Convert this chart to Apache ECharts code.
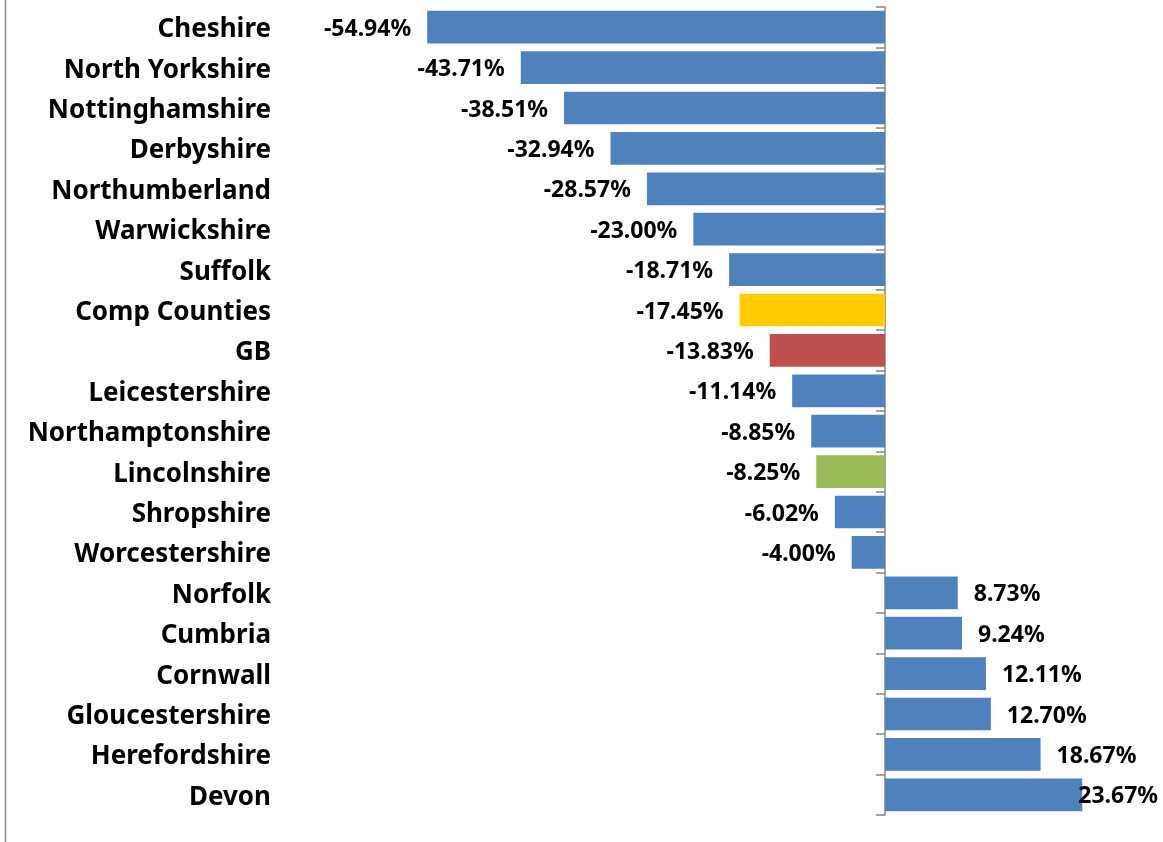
<!DOCTYPE html>
<html>
<head>
<meta charset="utf-8">
<style>
  html, body { margin: 0; padding: 0; background: #fff; }
  #chart-container { width: 1163px; height: 842px; }
</style>
<script src="https://cdn.jsdelivr.net/npm/echarts@6/dist/echarts.min.js"></script>
</head>
<body>
<div id="chart-container"></div>
<script>
var counties = [
  "Cheshire", "North Yorkshire", "Nottinghamshire", "Derbyshire", "Northumberland",
  "Warwickshire", "Suffolk", "Comp Counties", "GB", "Leicestershire",
  "Northamptonshire", "Lincolnshire", "Shropshire", "Worcestershire", "Norfolk",
  "Cumbria", "Cornwall", "Gloucestershire", "Herefordshire", "Devon"
];
var changes = [
  -54.94, -43.71, -38.51, -32.94, -28.57,
  -23.00, -18.71, -17.45, -13.83, -11.14,
  -8.85, -8.25, -6.02, -4.00, 8.73,
  9.24, 12.11, 12.70, 18.67, 23.67
];

var dom = document.getElementById("chart-container");
var myChart = echarts.init(dom, null, { renderer: "canvas" });

// special bars
var highlight = { "Comp Counties": "#FFCC00", "GB": "#C0504D", "Lincolnshire": "#9BBB59" };
var labelFont = { fontFamily: "Noto Sans", fontWeight: "bold", fontSize: 23, color: "#000" };

var barData = changes.map(function (v, i) {
  var name = counties[i];
  var item = {
    value: v,
    itemStyle: { color: highlight[name] || "#4F81BD" },
    label: { position: v < 0 ? "left" : "right" }
  };
  // last label is pulled back inside the chart, like the original
  if (i === changes.length - 1) item.label.offset = [-20, 2];
  return item;
});

var option = {
  animation: false,
  grid: { left: 385, right: 28, top: 7, bottom: 27, outerBoundsMode: "none" },
  graphic: [{
    type: "line",
    shape: { x1: 5.5, y1: 0, x2: 5.5, y2: 842 },
    style: { stroke: "#8c8c8c", lineWidth: 1.5 }
  }],
  xAxis: {
    type: "value",
    min: -60,
    max: 30,
    show: false
  },
  yAxis: [
    {
      type: "category",
      inverse: true,
      position: "left",
      data: counties,
      axisLine: { show: false, onZero: false },
      axisTick: { show: false },
      axisLabel: {
        margin: 114,
        formatter: "{a|{value}}",
        rich: {
          a: {
            padding: [5, 0, 0, 0],
            fontFamily: "Noto Sans",
            fontWeight: "bold",
            fontSize: 26,
            color: "#000"
          }
        }
      }
    },
    {
      type: "category",
      inverse: true,
      position: "left",
      data: counties,
      axisLine: { show: true, onZero: true, lineStyle: { color: "#868686", width: 1.5 } },
      axisTick: { show: true, length: 9, lineStyle: { color: "#868686", width: 1.5 } },
      axisLabel: { show: false }
    }
  ],
  series: [{
    type: "bar",
    yAxisIndex: 0,
    barCategoryGap: "19%",
    data: barData,
    label: Object.assign({
      show: true,
      distance: 16,
      offset: [0, 2],
      formatter: function (p) { return p.value.toFixed(2) + "%"; }
    }, labelFont)
  }]
};

myChart.setOption(option);
window.addEventListener("resize", myChart.resize);
</script>
</body>
</html>
